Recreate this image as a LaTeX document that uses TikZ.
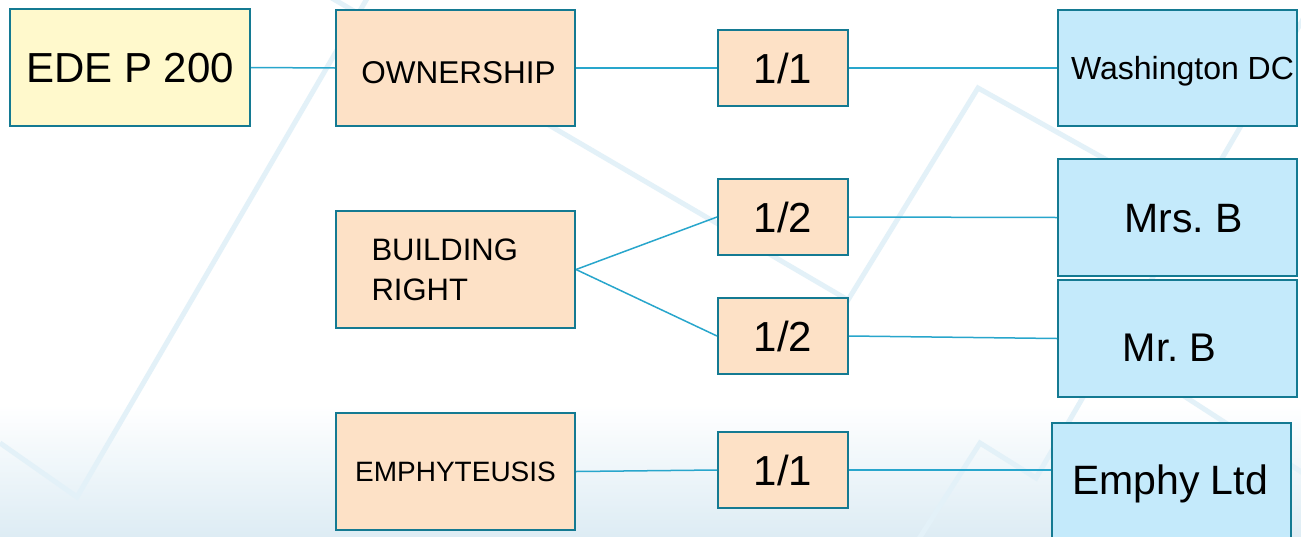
\documentclass[tikz,border=0pt]{standalone}
\usepackage{fontspec}
\setmainfont{Liberation Sans}
\frenchspacing
\definecolor{boxline}{RGB}{20,122,146}
\definecolor{link}{RGB}{40,166,204}
\definecolor{rootfill}{RGB}{255,249,204}
\definecolor{rightfill}{RGB}{253,225,198}
\definecolor{holderfill}{RGB}{196,234,251}
\definecolor{streak}{RGB}{227,241,248}
\definecolor{floorblue}{RGB}{221,236,244}
% shift the text inside a centred box: #1 = twice the horizontal offset, #2 = vertical offset
\newcommand\nudge[3]{\hspace*{#1}\raisebox{#2}{#3}}
\tikzset{
  box/.style={draw=boxline, line width=2pt, rectangle, inner sep=0pt, text depth=0pt},
  wide/.style={box, minimum width=239pt, minimum height=117pt},
  share/.style={box, fill=rightfill, minimum width=130pt, minimum height=76pt,
    font=\fontsize{42pt}{50pt}\selectfont, text height=30pt},
  conn/.style={draw=link, line width=1.5pt},
  streakline/.style={draw=streak, line width=5pt, line join=miter},
}
\begin{document}
\begin{tikzpicture}[x=1pt, y=-1pt]
\useasboundingbox (0,0) rectangle (1301,536);
\clip (0,0) rectangle (1301,536);

% backdrop: white page fading to pale blue at the foot, with faint streaks
\fill[white] (0,0) rectangle (1301,536);
\shade[top color=white, bottom color=floorblue] (0,405) rectangle (1301,537);
\path[streakline] (0,443) -- (77,497) -- (372,-10);
\path[streakline] (318,-10) -- (848,300) -- (978,88) -- (1200,212);
\path[streakline] (915,545) -- (980,443) -- (1036,478) -- (1320,-10);
\path[streakline] (1150,374) -- (1320,484);

% boxes
\node[wide, fill=rootfill, minimum width=240pt, font=\fontsize{42pt}{50pt}\selectfont, text height=30pt]
  (ede) at (130,67.5) {EDE P 200};

\node[wide, fill=rightfill, minimum height=116pt, font=\fontsize{31.5pt}{40pt}\selectfont, text height=22.5pt]
  (own) at (455.5,68) {\nudge{6pt}{-4.5pt}{OWNERSHIP}};
\node[wide, fill=rightfill, font=\fontsize{31pt}{40pt}\selectfont, text depth=, text width=168pt, align=left]
  (bld) at (455.5,269.5) {BUILDING\\RIGHT};
\node[wide, fill=rightfill, font=\fontsize{28pt}{34pt}\selectfont, text height=20pt]
  (emph) at (455.5,471.5) {EMPHYTEUSIS};

\node[share] (own11) at (783,68) {1/1};
\node[share] (half1) at (783,217) {1/2};
\node[share] (half2) at (783,336) {1/2};
\node[share] (emph11) at (783,470) {1/1};

\node[wide, fill=holderfill, minimum height=116pt, font=\fontsize{32pt}{40pt}\selectfont, text height=23pt]
  (wdc) at (1177.5,68) {\nudge{10pt}{0pt}{Washington DC}};
\node[wide, fill=holderfill, font=\fontsize{41pt}{50pt}\selectfont, text height=29.5pt]
  (mrsb) at (1177.5,217.5) {\nudge{12pt}{0pt}{Mrs. B}};
\node[wide, fill=holderfill, font=\fontsize{40pt}{50pt}\selectfont, text height=29pt]
  (mrb) at (1177.5,338.5) {\nudge{-16pt}{-8pt}{Mr. B}};
\node[wide, fill=holderfill, minimum height=125pt, font=\fontsize{41pt}{50pt}\selectfont, text height=29.5pt]
  (emphy) at (1171.5,485.5) {\nudge{-3pt}{5.5pt}{Emphy Ltd}};

% connectors
\path[conn] (ede.east) -- (own.west);
\path[conn] (own.east) -- (own11.west);
\path[conn] (own11.east) -- (wdc.west);
\path[conn] (bld.east) -- (half1.west);
\path[conn] (bld.east) -- (half2.west);
\path[conn] (half1.east) -- (mrsb.west);
\path[conn] (half2.east) -- (mrb.west);
\path[conn] (emph.east) -- (emph11.west);
\path[conn] (emph11.east) -- (emph11.east -| emphy.west);
\end{tikzpicture}
\end{document}
